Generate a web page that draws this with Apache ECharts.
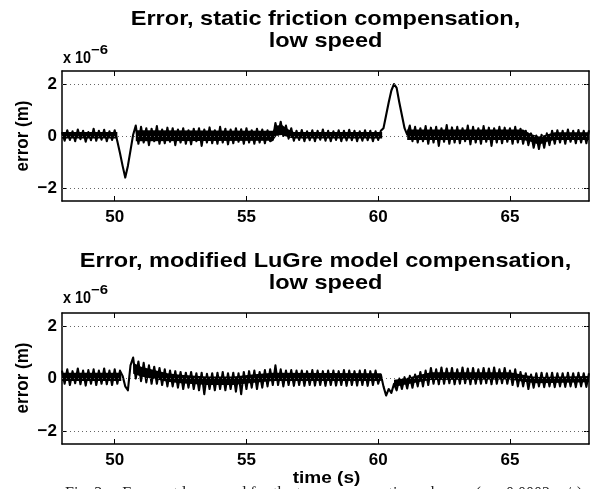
<!DOCTYPE html>
<html>
<head>
<meta charset="utf-8">
<script src="https://cdn.jsdelivr.net/npm/echarts@6/dist/echarts.min.js"></script>
<style>html,body{margin:0;padding:0;background:#fff}#c{width:595px;height:489px}</style>
</head>
<body>
<div id="c"></div>
<script>
// sampling grid of the recorded error signals (s)
const t0 = 48, dt = 0.1;
// error, static friction compensation (x 1e-6 m), one row per second 48.0 .. 67.9, then 68.0
const staticErr = [
  0.15,-0.18,0.22,-0.15,0.18,-0.2,0.25,-0.12,0.2,-0.22,
  0.15,-0.16,0.28,-0.18,0.2,-0.14,0.24,-0.2,0.18,-0.15,
  0.22,-0.2,-0.65,-1.15,-1.6,-1.15,-0.55,0.05,0.4,-0.3,
  0.35,-0.25,0.3,-0.35,0.28,-0.2,0.38,-0.3,0.25,-0.28,
  0.32,-0.22,0.3,-0.35,0.25,-0.25,0.3,-0.3,0.22,-0.32,
  0.28,-0.2,0.3,-0.38,0.25,-0.25,0.33,-0.28,0.22,-0.3,
  0.35,-0.25,0.28,-0.32,0.25,-0.28,0.3,-0.22,0.26,-0.3,
  0.3,-0.25,0.22,-0.3,0.28,-0.25,0.25,-0.28,0.22,-0.2,
  -0.15,0.5,0.05,0.55,0.0,0.4,-0.1,0.3,-0.18,0.2,
  -0.15,0.23,-0.2,0.18,-0.16,0.22,-0.2,0.2,-0.14,0.25,
  -0.18,0.2,-0.2,0.18,-0.15,0.22,-0.2,0.2,-0.17,0.24,
  -0.16,0.2,-0.2,0.18,-0.18,0.22,-0.16,0.2,-0.2,0.18,
  -0.15,0.2,0.3,0.8,1.3,1.75,2.0,1.85,1.3,0.8,
  0.3,0.05,0.4,-0.2,0.35,-0.25,0.3,-0.2,0.38,-0.3,
  0.32,-0.25,0.35,-0.38,0.3,-0.22,0.42,-0.3,0.33,-0.25,
  0.35,-0.28,0.3,-0.2,0.4,-0.32,0.35,-0.25,0.3,-0.3,
  0.38,-0.22,0.32,-0.38,0.3,-0.25,0.35,-0.28,0.32,-0.22,
  0.3,-0.3,0.35,-0.25,0.28,-0.3,0.2,-0.35,0.1,-0.45,
  0.02,-0.5,0.05,-0.45,0.1,-0.35,0.2,-0.3,0.22,-0.25,
  0.2,-0.3,0.25,-0.22,0.2,-0.28,0.23,-0.25,0.2,-0.28,
  0.22
];
// error, modified LuGre model compensation (x 1e-6 m)
const lugreErr = [
  0.3,-0.2,0.35,-0.25,0.28,-0.18,0.38,-0.22,0.3,-0.27,
  0.32,-0.2,0.35,-0.25,0.3,-0.2,0.38,-0.22,0.3,-0.25,
  0.35,-0.2,0.3,0.1,-0.3,-0.45,0.5,0.8,0.0,0.65,
  -0.1,0.6,-0.15,0.5,-0.2,0.45,-0.2,0.4,-0.25,0.35,
  -0.3,0.3,-0.3,0.28,-0.35,0.25,-0.4,0.22,-0.35,0.25,
  -0.4,0.2,-0.45,0.22,-0.6,0.18,-0.4,0.2,-0.45,0.22,
  -0.4,0.25,-0.45,0.2,-0.4,0.22,-0.5,0.2,-0.6,0.25,
  -0.4,0.28,-0.35,0.3,-0.4,0.25,-0.35,0.32,-0.3,0.35,
  -0.25,0.5,-0.25,0.35,-0.3,0.3,-0.25,0.32,-0.28,0.3,
  -0.25,0.3,-0.28,0.28,-0.25,0.32,-0.27,0.3,-0.25,0.28,
  -0.28,0.3,-0.25,0.3,-0.27,0.28,-0.25,0.32,-0.28,0.3,
  -0.25,0.28,-0.27,0.3,-0.25,0.32,-0.28,0.28,-0.25,0.3,
  -0.2,0.15,-0.3,-0.65,-0.4,-0.55,-0.2,-0.45,0.0,-0.4,
  0.05,-0.38,0.1,-0.35,0.15,-0.3,0.25,-0.3,0.3,-0.25,
  0.4,-0.2,0.35,-0.22,0.42,-0.2,0.38,-0.18,0.4,-0.22,
  0.35,-0.2,0.42,-0.18,0.38,-0.22,0.4,-0.2,0.35,-0.2,
  0.4,-0.18,0.38,-0.22,0.42,-0.2,0.35,-0.18,0.4,-0.2,
  0.3,-0.25,0.35,-0.3,0.25,-0.3,0.2,-0.4,0.15,-0.35,
  0.2,-0.3,0.22,-0.33,0.2,-0.3,0.22,-0.33,0.2,-0.3,
  0.2,-0.32,0.22,-0.3,0.2,-0.33,0.22,-0.3,0.2,-0.32,
  0.2
];
// dense core of the noise band: segments of [t, low, high]
const staticCore = [
  [[48.0,-0.1,0.15],[50.1,-0.1,0.15]],
  [[50.8,-0.2,0.22],[56.0,-0.18,0.2],[56.15,0.02,0.4],[56.35,0.04,0.42],[56.6,-0.06,0.25],[56.8,-0.1,0.15],[60.15,-0.1,0.15]],
  [[61.1,-0.15,0.25],[65.5,-0.15,0.25],[65.8,-0.22,0.08],[66.1,-0.34,-0.02],[66.4,-0.22,0.06],[66.7,-0.15,0.14],[68.0,-0.15,0.14]]
];
const lugreCore = [
  [[48.0,-0.1,0.22],[50.25,-0.1,0.22]],
  [[50.7,0.18,0.6],[51.0,0.08,0.45],[51.5,-0.02,0.32],[52.0,-0.12,0.2],[52.5,-0.18,0.14],[53.5,-0.25,0.08],[54.5,-0.25,0.08],[55.3,-0.16,0.16],[56.0,-0.1,0.22],[60.1,-0.1,0.2]],
  [[60.6,-0.32,-0.05],[61.0,-0.24,0.0],[61.5,-0.14,0.12],[62.0,-0.06,0.24],[65.0,-0.04,0.24],[65.5,-0.12,0.14],[66.0,-0.18,0.06],[68.0,-0.14,0.1]]
];
const xTicks = [50, 55, 60, 65];
const yTicks = [-2, 0, 2];
const xRange = [48, 68];
const yRange = [-2.5, 2.5];
const titles = [
  ['Error, static friction compensation,', 'low speed'],
  ['Error, modified LuGre model compensation,', 'low speed']
];
const yName = 'error (m)';
const xName = 'time (s)';
const caption = 'Fig. 3.    Errors at low speed for the two compensation schemes (v = 0.0002 m/s)';

const FONT = '"Liberation Sans", Arial, Helvetica, sans-serif';
const grids = [
  {left: 62, top: 71, width: 527, height: 130},
  {left: 62, top: 313, width: 527, height: 131}
];
const axisLine = {show: true, onZero: false, lineStyle: {color: '#000', width: 1.5}};
const fmtY = v => v < 0 ? '\u2212' + Math.abs(v) : String(v);

const xAxis = [], yAxis = [], series = [];
grids.forEach((g, gi) => {
  ['bottom', 'top'].forEach(pos => {
    xAxis.push({
      type: 'value', gridIndex: gi, position: pos, min: xRange[0], max: xRange[1],
      axisLine,
      axisTick: {show: true, inside: true, length: 5, customValues: xTicks, lineStyle: {color: '#000', width: 1}},
      axisLabel: {show: pos === 'bottom', customValues: xTicks, color: '#000', fontSize: 17, fontWeight: 'bold', fontFamily: FONT, margin: 8},
      splitLine: {show: false}
    });
  });
  ['left', 'right'].forEach(pos => {
    yAxis.push({
      type: 'value', gridIndex: gi, position: pos, min: yRange[0], max: yRange[1],
      axisLine,
      axisTick: {show: true, inside: true, length: 5, customValues: yTicks, lineStyle: {color: '#000', width: 1}},
      axisLabel: {show: pos === 'left', customValues: yTicks, formatter: fmtY, color: '#000', fontSize: 17, fontWeight: 'bold', fontFamily: FONT, margin: 5},
      splitLine: {show: false}
    });
  });
  // dotted grid lines
  series.push({
    type: 'line', xAxisIndex: gi * 2, yAxisIndex: gi * 2, data: [], z: 1, silent: true,
    markLine: {
      silent: true, symbol: 'none', label: {show: false}, animation: false,
      lineStyle: {type: [1, 3], color: '#666', width: 1},
      data: yTicks.map(v => ({yAxis: v}))
    }
  });
  const core = gi === 0 ? staticCore : lugreCore;
  series.push({
    type: 'custom', xAxisIndex: gi * 2, yAxisIndex: gi * 2, z: 2, silent: true, clip: true,
    data: core.map(seg => [seg[0][0], seg[0][1]]),
    renderItem: (params, api) => {
      const seg = core[params.dataIndex];
      const up = seg.map(p => api.coord([p[0], p[2]]));
      const lo = seg.slice().reverse().map(p => api.coord([p[0], p[1]]));
      return {type: 'polygon', shape: {points: up.concat(lo)}, style: {fill: '#000'}};
    }
  });
  const vals = gi === 0 ? staticErr : lugreErr;
  series.push({
    type: 'line', xAxisIndex: gi * 2, yAxisIndex: gi * 2, z: 3,
    data: vals.map((v, i) => [+(t0 + i * dt).toFixed(2), v]),
    showSymbol: false, symbol: 'none', sampling: null, clip: true,
    lineStyle: {color: '#000', width: 2.1, join: 'round'}
  });
});

const graphic = [];
const cx = 62 + 527 / 2;
const txt = (text, x, y, size, align, sx) => ({
  type: 'text', x, y, scaleX: sx, silent: true,
  style: {text, x: 0, y: 0, fill: '#000', font: 'bold ' + size + 'px ' + FONT, textAlign: align, textVerticalAlign: 'middle'}
});
// titles
graphic.push(txt(titles[0][0], cx, 19, 21, 'center', 1.12));
graphic.push(txt(titles[0][1], cx, 41, 21, 'center', 1.12));
graphic.push(txt(titles[1][0], cx, 261, 21, 'center', 1.12));
graphic.push(txt(titles[1][1], cx, 283, 21, 'center', 1.12));
// exponent labels
[[59, 50], [299, 290]].forEach(([y1, y2]) => {
  graphic.push(txt('x 10', 63, y1, 16, 'left', 0.9));
  graphic.push(txt('\u22126', 91, y2, 13, 'left', 1.15));
});
// y axis names
[136, 378].forEach(y => {
  graphic.push({
    type: 'text', x: 23, y, rotation: Math.PI / 2, scaleY: 1.08, silent: true,
    style: {text: yName, x: 0, y: 0, fill: '#000', font: 'bold 17px ' + FONT, textAlign: 'center', textVerticalAlign: 'middle'}
  });
});
// x axis name
graphic.push(txt(xName, cx + 1, 478, 17, 'center', 1.12));
// caption (cut off at the bottom of the picture)
graphic.push({
  type: 'text', x: 65, y: 494, silent: true,
  style: {text: caption, x: 0, y: 0, fill: '#222', font: '16px "Liberation Serif", "Times New Roman", serif', textAlign: 'left', textVerticalAlign: 'middle'}
});

const chart = echarts.init(document.getElementById('c'), null, {renderer: 'canvas'});
chart.setOption({
  animation: false,
  backgroundColor: '#fff',
  grid: grids.map(g => Object.assign({containLabel: false}, g)),
  xAxis, yAxis, series, graphic
});
</script>
</body>
</html>
